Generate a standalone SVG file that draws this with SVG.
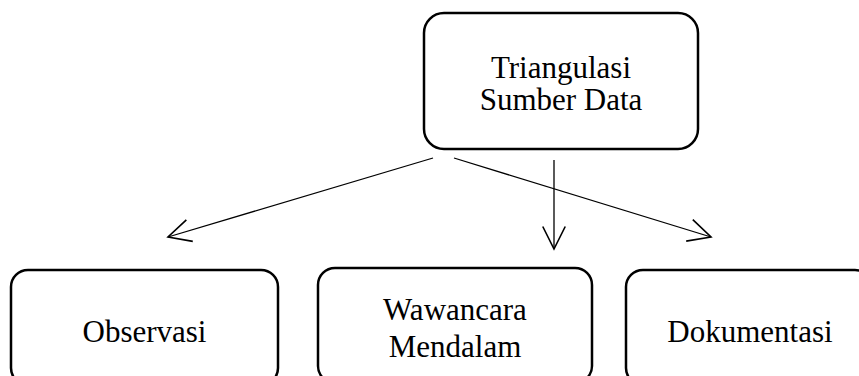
<svg xmlns="http://www.w3.org/2000/svg" width="859" height="376" viewBox="0 0 859 376">
<style>
.box{fill:#fff;stroke:#000;stroke-width:2.5}
.lbl{font-family:"Liberation Serif","Times New Roman",serif;font-size:31px;fill:#000;text-anchor:middle}
.conn{stroke:#000;stroke-width:1.3;fill:none}
</style>
<defs>
<marker id="arr" markerUnits="userSpaceOnUse" markerWidth="30" markerHeight="30" viewBox="-20 -12 24 24" refX="0" refY="0" orient="auto">
<path d="M-18,-9 L0,0 L-18,9" fill="none" stroke="#000" stroke-width="1.3"/>
</marker>
</defs>
<g id="connectors">
<line class="conn" x1="433" y1="158" x2="168" y2="237" marker-end="url(#arr)"/>
<line class="conn" x1="454" y1="158" x2="711" y2="237" marker-end="url(#arr)"/>
<line class="conn" x1="554" y1="160" x2="554" y2="249" marker-end="url(#arr)"/>
</g>
<g id="triangulasi">
<rect class="box" x="424" y="13" width="274" height="136" rx="20" ry="20"/>
<text class="lbl" x="561" y="78">Triangulasi</text>
<text class="lbl" x="561" y="110">Sumber Data</text>
</g>
<g id="observasi">
<rect class="box" x="11" y="270" width="267" height="115" rx="17" ry="17"/>
<text class="lbl" x="144.5" y="342">Observasi</text>
</g>
<g id="wawancara">
<rect class="box" x="318" y="268" width="274" height="115" rx="17" ry="17"/>
<text class="lbl" x="455" y="320">Wawancara</text>
<text class="lbl" x="455" y="357">Mendalam</text>
</g>
<g id="dokumentasi">
<rect class="box" x="626" y="270" width="246" height="115" rx="17" ry="17"/>
<text class="lbl" x="750" y="342">Dokumentasi</text>
</g>
</svg>
